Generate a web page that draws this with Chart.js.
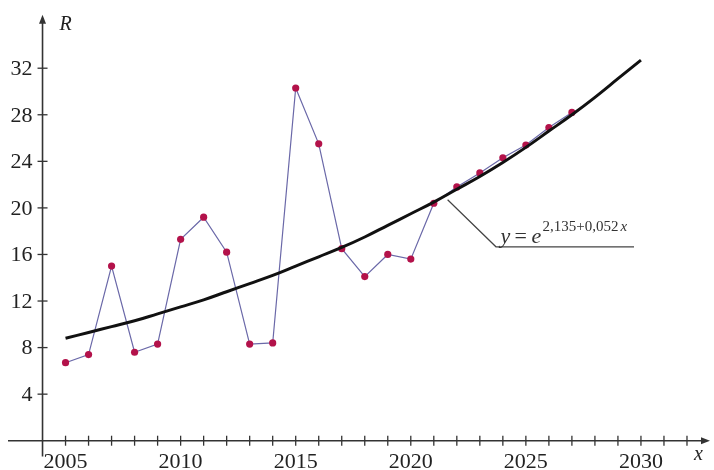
<!DOCTYPE html>
<html>
<head>
<meta charset="utf-8">
<script src="https://cdn.jsdelivr.net/npm/chart.js@4.4.0/dist/chart.umd.min.js"></script>
<style>
  html, body { margin: 0; padding: 0; background: #fff; }
  #wrap { width: 714px; height: 470px; }
</style>
</head>
<body>
<div id="wrap"><canvas id="chart"></canvas></div>
<script>
// observed values R by year
const years = [2005, 2006, 2007, 2008, 2009, 2010, 2011, 2012, 2013, 2014, 2015, 2016,
               2017, 2018, 2019, 2020, 2021, 2022, 2023, 2024, 2025, 2026, 2027];
const rValues = [6.7, 7.4, 15.0, 7.6, 8.3, 17.3, 19.2, 16.2, 8.3, 8.4, 30.3, 25.5,
                 16.5, 14.1, 16.0, 15.6, 20.4, 21.8, 23.0, 24.3, 25.4, 26.9, 28.2];

// trend curve
const trendYears = [2005, 2006, 2007, 2008, 2009, 2010, 2011, 2012, 2013, 2014, 2015, 2016, 2017,
                    2018, 2019, 2020, 2021, 2022, 2023, 2024, 2025, 2026, 2027, 2028, 2029, 2030];
const trendValues = [8.8, 9.3, 9.8, 10.3, 10.9, 11.5, 12.1, 12.8, 13.5, 14.2, 15.0, 15.8, 16.6,
                     17.5, 18.5, 19.5, 20.5, 21.6, 22.7, 23.9, 25.2, 26.6, 28.0, 29.5, 31.1, 32.7];

const xTicks = [2005, 2010, 2015, 2020, 2025, 2030];
const yTicks = [4, 8, 12, 16, 20, 24, 28, 32];

const serif = '"Liberation Serif", "DejaVu Serif", serif';

// draws the arrowed axes, ticks, labels and the formula callout
const mathAxes = {
    id: 'mathAxes',
    afterDatasetsDraw(chart) {
        const ctx = chart.ctx;
        const xs = chart.scales.x, ys = chart.scales.y;
        const ox = xs.getPixelForValue(2004);
        const oy = ys.getPixelForValue(0);
        ctx.save();
        ctx.strokeStyle = '#333';
        ctx.fillStyle = '#333';
        ctx.lineWidth = 1.6;

        // x axis
        const xl = xs.getPixelForValue(2002.5), xr = xs.getPixelForValue(2033);
        ctx.beginPath(); ctx.moveTo(xl, oy); ctx.lineTo(xr - 6, oy); ctx.stroke();
        ctx.beginPath(); ctx.moveTo(xr, oy); ctx.lineTo(xr - 9, oy - 3.5); ctx.lineTo(xr - 9, oy + 3.5); ctx.closePath(); ctx.fill();
        // y axis
        const yb = ys.getPixelForValue(-1.35), yt = ys.getPixelForValue(36.6);
        ctx.beginPath(); ctx.moveTo(ox, yb); ctx.lineTo(ox, yt + 6); ctx.stroke();
        ctx.beginPath(); ctx.moveTo(ox, yt); ctx.lineTo(ox - 3.5, yt + 9); ctx.lineTo(ox + 3.5, yt + 9); ctx.closePath(); ctx.fill();

        // ticks
        ctx.lineWidth = 1.3;
        for (let yr = 2005; yr <= 2032; yr++) {
            const px = xs.getPixelForValue(yr);
            ctx.beginPath(); ctx.moveTo(px, oy - 5); ctx.lineTo(px, oy + 5); ctx.stroke();
        }
        yTicks.forEach(v => {
            const py = ys.getPixelForValue(v);
            ctx.beginPath(); ctx.moveTo(ox - 5, py); ctx.lineTo(ox + 5, py); ctx.stroke();
        });

        // tick labels
        ctx.fillStyle = '#222';
        ctx.font = '22px ' + serif;
        ctx.textAlign = 'center';
        ctx.textBaseline = 'alphabetic';
        xTicks.forEach(v => ctx.fillText(String(v), xs.getPixelForValue(v), oy + 27));
        ctx.textAlign = 'right';
        ctx.textBaseline = 'middle';
        yTicks.forEach(v => ctx.fillText(String(v), ox - 10, ys.getPixelForValue(v) + 1));

        // axis names
        ctx.font = 'italic 20px ' + serif;
        ctx.textAlign = 'center';
        ctx.fillText('R', ox + 23, ys.getPixelForValue(35.7));
        ctx.fillText('x', xs.getPixelForValue(2032.5), oy + 14);

        // formula callout
        ctx.strokeStyle = '#444';
        ctx.lineWidth = 1.2;
        ctx.beginPath();
        ctx.moveTo(xs.getPixelForValue(2021.6), ys.getPixelForValue(20.7));
        ctx.lineTo(xs.getPixelForValue(2023.7), ys.getPixelForValue(16.66));
        ctx.lineTo(xs.getPixelForValue(2029.7), ys.getPixelForValue(16.66));
        ctx.stroke();
        ctx.fillStyle = '#333';
        ctx.textAlign = 'left';
        ctx.textBaseline = 'alphabetic';
        const tx = xs.getPixelForValue(2023.9), ty = ys.getPixelForValue(16.95);
        ctx.font = 'italic 22px ' + serif;
        ctx.fillText('y', tx, ty);
        ctx.font = '22px ' + serif;
        ctx.fillText('=', tx + 14, ty);
        ctx.font = 'italic 22px ' + serif;
        ctx.fillText('e', tx + 31, ty);
        ctx.font = '15px ' + serif;
        ctx.fillText('2,135+0,052', tx + 42, ty - 12);
        const w = ctx.measureText('2,135+0,052').width;
        ctx.font = 'italic 15px ' + serif;
        ctx.fillText('x', tx + 44 + w, ty - 12);
        ctx.restore();
    }
};

new Chart(document.getElementById('chart'), {
    type: 'scatter',
    data: {
        datasets: [
            {
                label: 'trend',
                data: trendYears.map((x, i) => ({ x: x, y: trendValues[i] })),
                showLine: true,
                borderColor: '#111',
                borderWidth: 3,
                pointRadius: 0,
                tension: 0.4
            },
            {
                label: 'R',
                data: years.map((x, i) => ({ x: x, y: rValues[i] })),
                showLine: true,
                borderColor: '#6a68a8',
                borderWidth: 1.2,
                pointRadius: 3.6,
                pointBackgroundColor: '#b3124a',
                pointBorderColor: '#b3124a',
                pointBorderWidth: 0
            }
        ]
    },
    options: {
        responsive: true,
        maintainAspectRatio: false,
        animation: false,
        layout: { padding: { left: 8, right: 1, top: 10, bottom: 6 } },
        plugins: { legend: { display: false }, tooltip: { enabled: false } },
        scales: {
            x: { type: 'linear', min: 2002.5, max: 2033, display: false },
            y: { type: 'linear', min: -2, max: 37, display: false }
        }
    },
    plugins: [mathAxes]
});
</script>
</body>
</html>
